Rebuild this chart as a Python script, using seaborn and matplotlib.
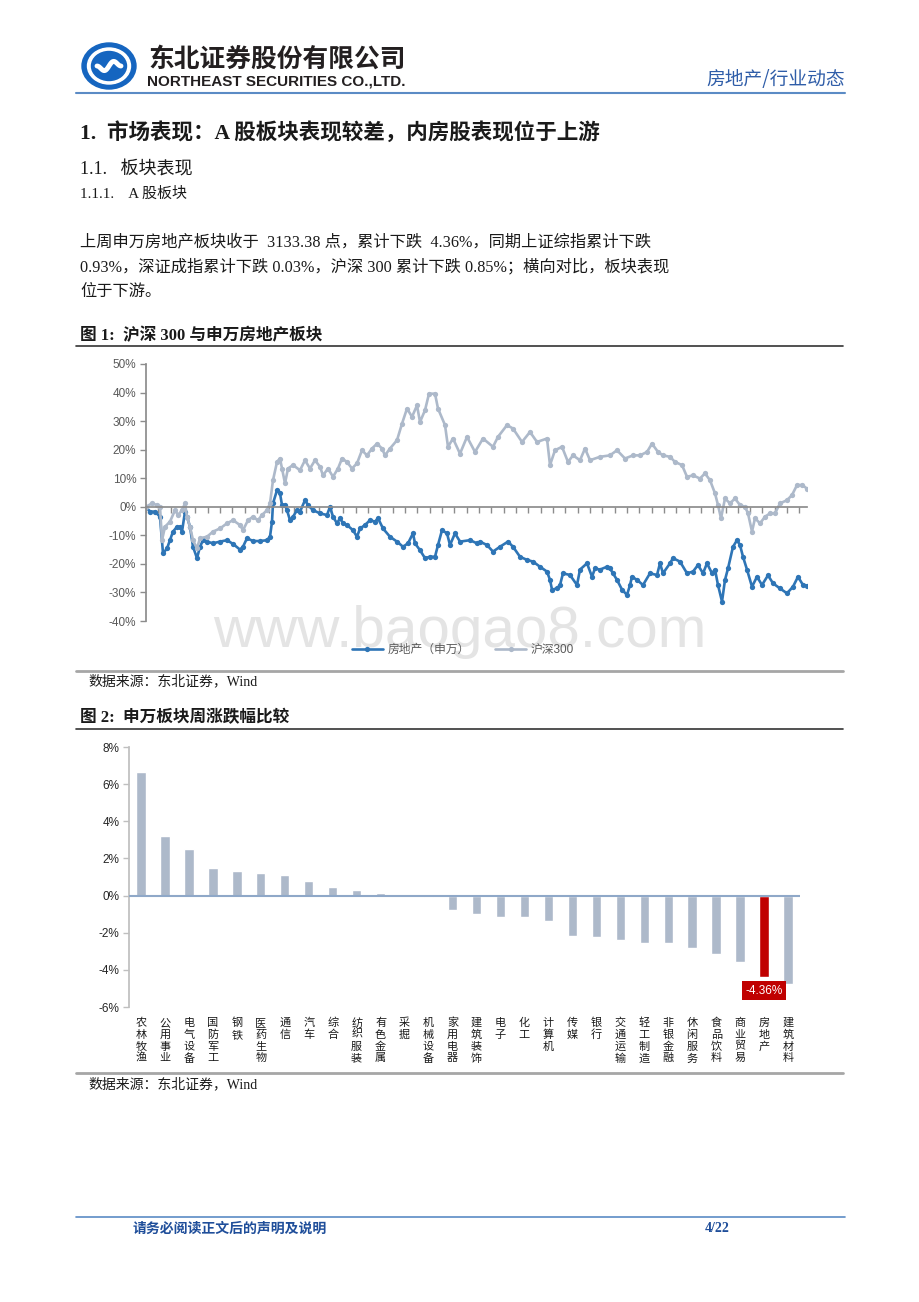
import numpy as np
import pandas as pd
import matplotlib
matplotlib.use('Agg')
import matplotlib.pyplot as plt
import seaborn as sns
from matplotlib.patches import Ellipse
from matplotlib.ticker import MultipleLocator, FuncFormatter

# Figure 1: cumulative return (%) by trading day
fdc_day = [0, 4, 9, 14, 17, 21, 24, 27, 31, 34,
           36, 39, 41, 44, 47, 51, 54, 57, 61, 67,
           74, 81, 87, 94, 97, 101, 107, 114, 121, 124,
           126, 127, 131, 134, 136, 139, 141, 144, 147, 151,
           154, 159, 162, 167, 174, 181, 184, 187, 191, 194,
           197, 201, 207, 211, 214, 219, 224, 229, 232, 237,
           244, 251, 257, 262, 267, 269, 274, 279, 284, 289,
           292, 296, 301, 304, 309, 314, 324, 331, 334, 341,
           347, 354, 362, 367, 374, 381, 387, 394, 401, 404,
           406, 411, 414, 417, 424, 431, 434, 441, 446, 449,
           454, 461, 464, 467, 471, 476, 481, 484, 486, 491,
           497, 504, 511, 514, 517, 524, 527, 534, 541, 547,
           552, 557, 561, 566, 569, 572, 576, 579, 582, 587,
           591, 594, 597, 601, 606, 611, 616, 622, 627, 634,
           641, 647, 652, 657, 661]
fdc_val = [0, -1.7, -1.7, -3.5, -16.3, -14.6, -11.7, -8.7, -7, -7,
           -8.7, -1.7, -3.5, -7, -14, -18, -14, -11.7, -12.2, -12.8,
           -12.2, -11.7, -13, -15, -14, -11, -12, -12, -11.7, -10.5,
           -5.2, 1.2, 5.8, 4.7, 0.6, 0.6, -1.2, -4.7, -3.5, -1.2,
           -1.7, 2.3, 0.6, -1.2, -2.3, -2.9, 0, -3.5, -5.8, -4,
           -5.8, -6.4, -8.2, -10.5, -7.6, -6.4, -4.7, -5.2, -4, -7.6,
           -10.5, -12.2, -14, -12.8, -9.3, -12.8, -15.2, -18, -17.5, -17.5,
           -13.4, -8.2, -9.3, -13.4, -9.3, -12.2, -11.7, -12.8, -12.2, -13.4,
           -15.7, -14, -12.2, -14, -17.5, -18.6, -19.2, -21, -22.7, -25.6,
           -29, -28.6, -27.4, -23.3, -23.9, -27.4, -22, -19.8, -24.5, -21.6,
           -22, -21, -21.6, -23.3, -25.6, -29, -30.9, -27.4, -24.5, -25.6,
           -27.4, -23.3, -23.9, -19.8, -23.3, -19.8, -18, -19.2, -23.3, -22.7,
           -20.4, -23.3, -19.8, -23.3, -22, -27.4, -33.2, -25.6, -21.6, -14,
           -11.7, -13.4, -17.5, -22, -28, -24.5, -27.4, -24, -26.8, -28.6,
           -30.3, -28, -24.5, -27.4, -27.6]

hs_day = [0, 6, 11, 14, 16, 19, 24, 29, 32, 36,
          39, 41, 44, 47, 51, 54, 61, 67, 74, 81,
          87, 94, 97, 102, 107, 112, 116, 121, 124, 127,
          131, 134, 136, 139, 142, 147, 154, 159, 164, 169,
          174, 177, 182, 187, 192, 196, 201, 206, 211, 216,
          221, 226, 231, 236, 239, 244, 251, 256, 261, 266,
          271, 274, 279, 283, 289, 292, 299, 302, 307, 314,
          321, 329, 337, 347, 352, 361, 367, 376, 384, 391,
          401, 404, 409, 416, 422, 427, 434, 439, 444, 454,
          464, 471, 479, 487, 494, 501, 506, 512, 517, 524,
          529, 536, 541, 547, 554, 559, 564, 569, 572, 575,
          579, 584, 589, 594, 599, 602, 606, 609, 614, 619,
          624, 629, 634, 641, 646, 651, 656, 661]
hs_val = [0, 1.2, 0.6, 0, -11.7, -7, -5.2, -1.2, -2.9, -1.2,
          1.2, -3.5, -7, -11.7, -14.6, -11, -10.5, -8.7, -7.6, -5.8,
          -4.7, -6.4, -8.2, -4.7, -3.5, -4.7, -2.9, -1.2, 1.2, 9.3,
          15.7, 16.9, 13.4, 8.2, 13.4, 14.6, 12.8, 16.3, 13.4, 16.3,
          14, 11, 13.4, 10.5, 13.4, 16.9, 15.7, 13.4, 15.2, 19.8,
          18, 20.4, 22.1, 20.4, 18, 20.4, 23.3, 29.1, 34.4, 31.5,
          35.5, 29.7, 33.8, 39.6, 39.6, 34.4, 28.6, 21, 23.9, 18.6,
          24.5, 19.2, 23.9, 21, 24.5, 28.6, 27.4, 22.7, 26.2, 22.7,
          23.9, 14.6, 19.8, 21, 15.7, 18, 16.3, 20.4, 16.3, 17.5,
          18, 19.8, 16.9, 18, 18, 19.2, 22.1, 19.2, 18, 17.5,
          15.7, 14.6, 10.5, 11, 9.9, 11.7, 9.3, 4.7, 0.6, -4,
          2.9, 1.2, 2.9, 0.6, 0, -2.3, -8.7, -4, -5.8, -3.5,
          -2.3, -2.3, 1.2, 2.3, 4.1, 7.6, 7.6, 6.4]

# Figure 2: weekly change of SW sectors (%)
sectors = ['农林牧渔', '公用事业', '电气设备', '国防军工', '钢铁', '医药生物', '通信',
           '汽车', '综合', '纺织服装', '有色金属', '采掘', '机械设备', '家用电器',
           '建筑装饰', '电子', '化工', '计算机', '传媒', '银行', '交通运输',
           '轻工制造', '非银金融', '休闲服务', '食品饮料', '商业贸易', '房地产', '建筑材料']
sector_chg = [6.63, 3.19, 2.51, 1.51, 1.33, 1.24, 1.09,
              0.79, 0.47, 0.29, 0.16, -0.01, -0.10, -0.79,
              -0.98, -1.16, -1.18, -1.36, -2.15, -2.24, -2.38,
              -2.54, -2.56, -2.80, -3.12, -3.56, -4.36, -4.75]
highlight = '房地产'

W, H = 920, 1302
sns.set_theme(style='white')
plt.rcParams['font.family'] = ['Liberation Serif', 'Noto Sans CJK SC']
plt.rcParams['axes.unicode_minus'] = False
SANS = ['Liberation Sans', 'Noto Sans CJK SC']
CJK = ['Noto Sans CJK SC', 'DejaVu Sans']
TXT = '#1a1a1a'

fig = plt.figure(figsize=(W / 100, H / 100), dpi=100)
page = fig.add_axes([0, 0, 1, 1])
page.set_xlim(0, W)
page.set_ylim(H, 0)
page.axis('off')


def box(x0, y0, x1, y1):
    # pixel box on the page -> new axes
    return fig.add_axes([x0 / W, 1 - y1 / H, (x1 - x0) / W, (y1 - y0) / H])


# header: logo, company name, report type
blue = '#1565C0'
page.add_patch(Ellipse((109, 66), 54, 46, color=blue))
page.add_patch(Ellipse((109, 66), 43, 36, color='white'))
page.add_patch(Ellipse((109, 66), 35, 29, color=blue))
t = np.linspace(0, 1, 40)
page.plot(97 + 24 * t, 66 + 6 * np.sin(2 * np.pi * t) * np.cos(np.pi * (t - 0.5)),
          color='white', lw=3.5, solid_capstyle='round')
page.text(148, 59, '东北证券股份有限公司', fontsize=18.5, weight='bold', color='#231F20',
          family=CJK, va='center')
page.text(147, 82, 'NORTHEAST SECURITIES CO.,LTD.', fontsize=11, weight='bold',
          color='#231F20', family='Liberation Sans', va='center')
page.text(845, 80, '房地产/行业动态', fontsize=13.5, color='#2F5DA8', family=CJK,
          ha='right', va='center')
page.plot([76, 845], [93, 93], color='#5B8BC5', lw=1.5)

# section headings and paragraph
page.text(80, 133, '1.  市场表现：A 股板块表现较差，内房股表现位于上游',
          fontsize=15.5, weight='bold', color=TXT, va='center')
page.text(80, 170, '1.1.   板块表现', fontsize=13, color=TXT, va='center')
page.text(80, 194, '1.1.1.    A 股板块', fontsize=10.8, color=TXT, va='center')
para = ['上周申万房地产板块收于  3133.38 点，累计下跌  4.36%，同期上证综指累计下跌',
        '0.93%，深证成指累计下跌 0.03%，沪深 300 累计下跌 0.85%；横向对比，板块表现',
        '位于下游。']
for i, line in enumerate(para):
    page.text(80, 242 + 25 * i, line, fontsize=11.7, color=TXT, va='center')

# ---- figure 1 ----
page.text(80, 336, '图 1:  沪深 300 与申万房地产板块', fontsize=12, weight='bold',
          color=TXT, va='center')
page.plot([76, 843], [346, 346], color='#333333', lw=1.2)
page.text(460, 632, 'www.baogao8.com', fontsize=42, color='#E4E4E4', family='Liberation Sans',
          ha='center', va='center', zorder=0)

ax1 = box(146, 364, 807, 621)
ax1.set_facecolor('none')
sns.lineplot(x=fdc_day, y=fdc_val, ax=ax1, color='#2E75B6', lw=1.9, marker='o',
             markersize=3.8, markeredgewidth=0, label='房地产（申万）')
sns.lineplot(x=hs_day, y=hs_val, ax=ax1, color='#ADB9CA', lw=1.9, marker='o',
             markersize=3.8, markeredgewidth=0, label='沪深300')
ax1.set_xlim(0, 661)
ax1.set_ylim(-40, 50)
ax1.set_yticks(range(-40, 51, 10))
ax1.yaxis.set_major_formatter(FuncFormatter(lambda v, p: f'{v:.0f}%'))
ax1.xaxis.set_major_locator(MultipleLocator(12.33))
for s in ['top', 'right']:
    ax1.spines[s].set_visible(False)
ax1.spines['left'].set_color('#8C8C8C')
ax1.spines['bottom'].set_position(('data', 0))
ax1.spines['bottom'].set_color('#8C8C8C')
ax1.tick_params(axis='y', direction='out', length=4, width=1, color='#8C8C8C',
                labelsize=8.5, labelcolor='#595959', pad=3, left=True)
ax1.tick_params(axis='x', direction='out', length=4, width=1, color='#8C8C8C',
                labelbottom=False, bottom=True)
plt.setp(ax1.get_yticklabels(), family='Liberation Sans')
ax1.set_xlabel('')
ax1.set_ylabel('')
ax1.legend(loc='center', bbox_to_anchor=(463 / W, 1 - 650 / H), bbox_transform=fig.transFigure,
           ncol=2, frameon=False, handlelength=2.6, columnspacing=2.2, handletextpad=0.4,
           labelcolor='#595959', prop={'family': SANS, 'size': 8.5})

page.plot([76, 843], [671, 671], color='#A6A6A6', lw=2)
page.text(88, 681, '数据来源：东北证券，Wind', fontsize=10, color=TXT, va='center')

# ---- figure 2 ----
page.text(80, 718, '图 2:  申万板块周涨跌幅比较', fontsize=12, weight='bold', color=TXT,
          va='center')
page.plot([76, 843], [729, 729], color='#333333', lw=1.2)

ax2 = box(129, 747, 800, 1007)
ax2.set_facecolor('none')
pal = {s: ('#C00000' if s == highlight else '#ADB9CA') for s in sectors}
sns.barplot(x=sectors, y=sector_chg, hue=sectors, palette=pal, ax=ax2, width=0.39,
            saturation=1, legend=False)
ax2.axhline(0, color='#8FA8C8', lw=1.5, zorder=3)
ax2.set_xlim(-0.5, len(sectors) - 0.5)
ax2.set_ylim(-6, 8)
ax2.set_yticks(range(-6, 9, 2))
ax2.yaxis.set_major_formatter(FuncFormatter(lambda v, p: f'{v:.0f}%'))
for s in ['top', 'right', 'bottom']:
    ax2.spines[s].set_visible(False)
ax2.spines['left'].set_color('#BFBFBF')
ax2.tick_params(axis='y', direction='out', length=4, width=1, color='#BFBFBF',
                labelsize=8.5, labelcolor='#262626', pad=3, left=True)
plt.setp(ax2.get_yticklabels(), family='Liberation Sans')
ax2.set_xticks(range(len(sectors)))
ax2.set_xticklabels([])
ax2.tick_params(axis='x', length=0)
ax2.set_xlabel('')
ax2.set_ylabel('')
# vertical category names, one character per row
for i, name in enumerate(sectors):
    for j, ch in enumerate(name):
        ax2.annotate(ch, xy=(i, 0), xycoords=('data', 'axes fraction'),
                     xytext=(0, -16 - 11.8 * j), textcoords='offset pixels',
                     ha='center', va='center', fontsize=8, family=CJK, color=TXT)
k = sectors.index(highlight)
ax2.annotate(f'{sector_chg[k]:.2f}%', xy=(k, sector_chg[k]), xytext=(0, -6),
             textcoords='offset points', ha='center', va='top', color='white',
             fontsize=8.5, family='Liberation Sans',
             bbox=dict(boxstyle='square,pad=0.3', fc='#C00000', ec='none'))

page.plot([76, 843], [1073, 1073], color='#A6A6A6', lw=2)
page.text(88, 1084, '数据来源：东北证券，Wind', fontsize=10, color=TXT, va='center')

# footer
page.plot([76, 845], [1217, 1217], color='#5B8BC5', lw=1.2)
page.text(133, 1229, '请务必阅读正文后的声明及说明', fontsize=10, weight='bold',
          color='#1F4E9A', family=CJK, va='center')
page.text(705, 1229, '4/22', fontsize=10, weight='bold', color='#1F4E9A', va='center')

fig.savefig('out.png', dpi=100)
